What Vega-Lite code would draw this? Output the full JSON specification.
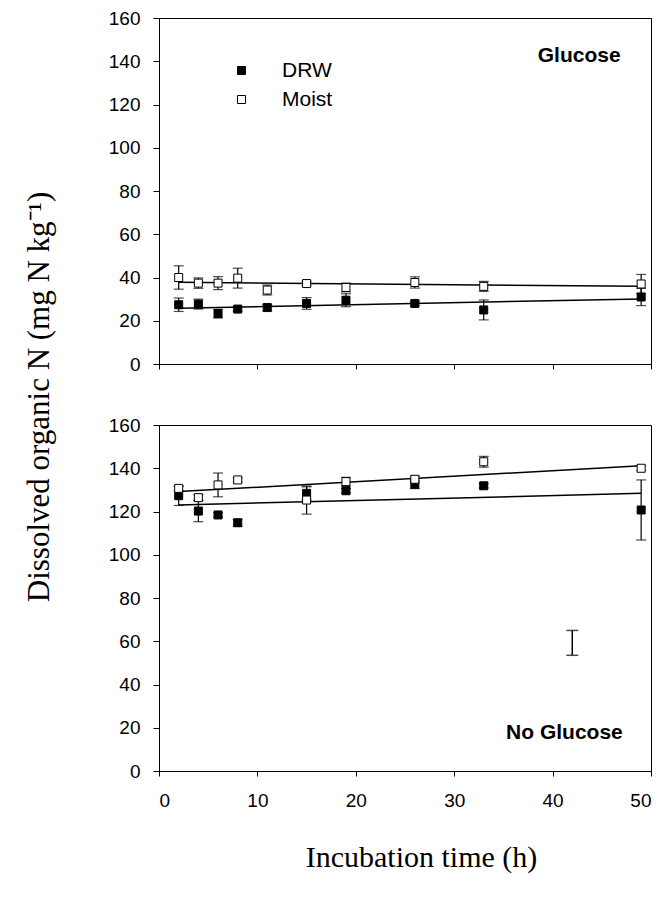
{
  "$schema": "https://vega.github.io/schema/vega-lite/v6.json",
  "autosize": {"type": "pad"},
  "padding": {"left": 22, "top": 8, "right": 5, "bottom": 5},
  "background": "white",
  "bounds": "flush",
  "spacing": 61,
  "datasets": {
    "obs": [
      {"panel": "Glucose", "trt": "DRW", "t": 2, "v": 27.4, "lo": 24.3, "hi": 30.5},
      {"panel": "Glucose", "trt": "DRW", "t": 4, "v": 27.7, "lo": 25.4, "hi": 30.0},
      {"panel": "Glucose", "trt": "DRW", "t": 6, "v": 23.3, "lo": 21.3, "hi": 25.3},
      {"panel": "Glucose", "trt": "DRW", "t": 8, "v": 25.4, "lo": 24.4, "hi": 26.4},
      {"panel": "Glucose", "trt": "DRW", "t": 11, "v": 26.1, "lo": 24.6, "hi": 27.6},
      {"panel": "Glucose", "trt": "DRW", "t": 15, "v": 28.0, "lo": 25.3, "hi": 30.7},
      {"panel": "Glucose", "trt": "DRW", "t": 19, "v": 29.5, "lo": 26.5, "hi": 32.5},
      {"panel": "Glucose", "trt": "DRW", "t": 26, "v": 28.0, "lo": 27.0, "hi": 29.0},
      {"panel": "Glucose", "trt": "DRW", "t": 33, "v": 25.0, "lo": 20.4, "hi": 29.6},
      {"panel": "Glucose", "trt": "DRW", "t": 49, "v": 31.0, "lo": 27.0, "hi": 35.0},
      {"panel": "Glucose", "trt": "Moist", "t": 2, "v": 40.0, "lo": 34.6, "hi": 45.4},
      {"panel": "Glucose", "trt": "Moist", "t": 4, "v": 37.4, "lo": 35.0, "hi": 39.8},
      {"panel": "Glucose", "trt": "Moist", "t": 6, "v": 37.4, "lo": 34.4, "hi": 40.4},
      {"panel": "Glucose", "trt": "Moist", "t": 8, "v": 39.7, "lo": 35.1, "hi": 44.3},
      {"panel": "Glucose", "trt": "Moist", "t": 11, "v": 34.2, "lo": 31.9, "hi": 36.5},
      {"panel": "Glucose", "trt": "Moist", "t": 15, "v": 37.2, "lo": 36.2, "hi": 38.2},
      {"panel": "Glucose", "trt": "Moist", "t": 19, "v": 35.4, "lo": 33.4, "hi": 37.4},
      {"panel": "Glucose", "trt": "Moist", "t": 26, "v": 37.7, "lo": 35.1, "hi": 40.3},
      {"panel": "Glucose", "trt": "Moist", "t": 33, "v": 35.9, "lo": 33.6, "hi": 38.2},
      {"panel": "Glucose", "trt": "Moist", "t": 49, "v": 37.0, "lo": 32.6, "hi": 41.4},
      {"panel": "No Glucose", "trt": "DRW", "t": 2, "v": 127.3, "lo": 122.8, "hi": 131.8},
      {"panel": "No Glucose", "trt": "DRW", "t": 4, "v": 120.2, "lo": 115.3, "hi": 125.1},
      {"panel": "No Glucose", "trt": "DRW", "t": 6, "v": 118.4, "lo": 117.4, "hi": 119.4},
      {"panel": "No Glucose", "trt": "DRW", "t": 8, "v": 114.8, "lo": 113.3, "hi": 116.3},
      {"panel": "No Glucose", "trt": "DRW", "t": 15, "v": 128.4, "lo": 125.4, "hi": 131.4},
      {"panel": "No Glucose", "trt": "DRW", "t": 19, "v": 129.6, "lo": 128.6, "hi": 130.6},
      {"panel": "No Glucose", "trt": "DRW", "t": 26, "v": 132.6, "lo": 130.6, "hi": 134.6},
      {"panel": "No Glucose", "trt": "DRW", "t": 33, "v": 131.9, "lo": 130.9, "hi": 132.9},
      {"panel": "No Glucose", "trt": "DRW", "t": 49, "v": 120.7, "lo": 106.8, "hi": 134.6},
      {"panel": "No Glucose", "trt": "Moist", "t": 2, "v": 130.7, "lo": 129.7, "hi": 131.7},
      {"panel": "No Glucose", "trt": "Moist", "t": 4, "v": 126.4, "lo": 125.1, "hi": 127.7},
      {"panel": "No Glucose", "trt": "Moist", "t": 6, "v": 132.3, "lo": 126.8, "hi": 137.8},
      {"panel": "No Glucose", "trt": "Moist", "t": 8, "v": 134.6, "lo": 133.6, "hi": 135.6},
      {"panel": "No Glucose", "trt": "Moist", "t": 15, "v": 125.3, "lo": 118.8, "hi": 131.8},
      {"panel": "No Glucose", "trt": "Moist", "t": 19, "v": 133.8, "lo": 131.8, "hi": 135.8},
      {"panel": "No Glucose", "trt": "Moist", "t": 26, "v": 134.9, "lo": 133.4, "hi": 136.4},
      {"panel": "No Glucose", "trt": "Moist", "t": 33, "v": 143.0, "lo": 140.5, "hi": 145.5},
      {"panel": "No Glucose", "trt": "Moist", "t": 49, "v": 140.0, "lo": 139.0, "hi": 141.0}
    ],
    "fit": [
      {"panel": "Glucose", "trt": "DRW", "t": 2, "v": 25.8},
      {"panel": "Glucose", "trt": "DRW", "t": 49, "v": 30.1},
      {"panel": "Glucose", "trt": "Moist", "t": 2, "v": 37.8},
      {"panel": "Glucose", "trt": "Moist", "t": 49, "v": 35.9},
      {"panel": "No Glucose", "trt": "DRW", "t": 2, "v": 123.0},
      {"panel": "No Glucose", "trt": "DRW", "t": 49, "v": 128.4},
      {"panel": "No Glucose", "trt": "Moist", "t": 2, "v": 129.2},
      {"panel": "No Glucose", "trt": "Moist", "t": 49, "v": 141.2}
    ],
    "lsd": [
      {"panel": "No Glucose", "t": 42, "lo": 53.5, "hi": 65}
    ],
    "notes": [
      {"panel": "Glucose", "t": 42.7, "v": 142.3, "label": "Glucose"},
      {"panel": "No Glucose", "t": 41.2, "v": 17.6, "label": "No Glucose"}
    ]
  },
  "config": {
    "view": {"stroke": "black", "strokeWidth": 1},
    "axis": {
      "domainColor": "black", "tickColor": "black", "labelColor": "black",
      "labelFont": "Liberation Sans", "labelFontSize": 19, "grid": false,
      "domainWidth": 1, "tickWidth": 1
    }
  },
  "vconcat": [
    {
      "width": 492, "height": 346,
      "layer": [
        {
          "data": {"name": "fit"},
          "transform": [{"filter": "datum.panel === 'Glucose'"}],
          "mark": {"type": "line", "color": "black", "strokeWidth": 1.5},
          "encoding": {
            "x": {"field": "t", "type": "quantitative", "scale": {"domain": [0, 50], "nice": false},
                  "axis": {"values": [0, 10, 20, 30, 40, 50], "labels": false, "title": null, "tickSize": 5}},
            "y": {"field": "v", "type": "quantitative", "scale": {"domain": [0, 160], "nice": false},
                  "axis": {"values": [0, 20, 40, 60, 80, 100, 120, 140, 160], "tickSize": 6, "labelPadding": 13,
                           "title": "Dissolved organic N (mg N kg⁻¹)", "titleFont": "Liberation Serif",
                           "titleFontSize": 31, "titleFontWeight": "normal", "titleColor": "black",
                           "titleAngle": -90, "titleX": -111, "titleY": 378.5, "titleAlign": "center",
                           "titleBaseline": "alphabetic"}},
            "detail": {"field": "trt"}
          }
        },
        {
          "data": {"name": "obs"},
          "transform": [{"filter": "datum.panel === 'Glucose'"}],
          "mark": {"type": "rule", "color": "black", "strokeWidth": 1.2},
          "encoding": {
            "x": {"field": "t", "type": "quantitative"},
            "y": {"field": "lo", "type": "quantitative"},
            "y2": {"field": "hi"}
          }
        },
        {
          "data": {"name": "obs"},
          "transform": [{"filter": "datum.panel === 'Glucose'"}],
          "mark": {"type": "tick", "orient": "horizontal", "size": 10, "thickness": 1.2, "color": "black"},
          "encoding": {
            "x": {"field": "t", "type": "quantitative"},
            "y": {"field": "lo", "type": "quantitative"}
          }
        },
        {
          "data": {"name": "obs"},
          "transform": [{"filter": "datum.panel === 'Glucose'"}],
          "mark": {"type": "tick", "orient": "horizontal", "size": 10, "thickness": 1.2, "color": "black"},
          "encoding": {
            "x": {"field": "t", "type": "quantitative"},
            "y": {"field": "hi", "type": "quantitative"}
          }
        },
        {
          "data": {"name": "obs"},
          "transform": [{"filter": "datum.panel === 'Glucose'"}],
          "mark": {"type": "square", "size": 64, "stroke": "black", "strokeWidth": 1, "opacity": 1},
          "encoding": {
            "x": {"field": "t", "type": "quantitative"},
            "y": {"field": "v", "type": "quantitative"},
            "fill": {"field": "trt", "type": "nominal",
                     "scale": {"domain": ["DRW", "Moist"], "range": ["black", "white"]},
                     "legend": {"orient": "none", "legendX": 72, "legendY": 42, "title": null, "padding": 0,
                                "symbolType": "square", "symbolSize": 64, "symbolStrokeColor": "black",
                                "symbolStrokeWidth": 1, "labelFont": "Liberation Sans", "labelFontSize": 21,
                                "labelColor": "black", "labelOffset": 30, "rowPadding": 7}}
          }
        },
        {
          "data": {"name": "notes"},
          "transform": [{"filter": "datum.panel === 'Glucose'"}],
          "mark": {"type": "text", "font": "Liberation Sans", "fontWeight": "bold", "fontSize": 21,
                   "align": "center", "baseline": "middle", "color": "black"},
          "encoding": {
            "x": {"field": "t", "type": "quantitative"},
            "y": {"field": "v", "type": "quantitative"},
            "text": {"field": "label"}
          }
        }
      ]
    },
    {
      "width": 492, "height": 346,
      "layer": [
        {
          "data": {"name": "fit"},
          "transform": [{"filter": "datum.panel === 'No Glucose'"}],
          "mark": {"type": "line", "color": "black", "strokeWidth": 1.5},
          "encoding": {
            "x": {"field": "t", "type": "quantitative", "scale": {"domain": [0, 50], "nice": false},
                  "axis": {"values": [0, 10, 20, 30, 40, 50], "tickSize": 5, "labelPadding": 15,
                           "title": "Incubation time (h)", "titleFont": "Liberation Serif", "titleFontSize": 30,
                           "titleFontWeight": "normal", "titleColor": "black", "titleX": 262, "titleY": 86,
                           "titleAlign": "center", "titleBaseline": "middle"}},
            "y": {"field": "v", "type": "quantitative", "scale": {"domain": [0, 160], "nice": false},
                  "axis": {"values": [0, 20, 40, 60, 80, 100, 120, 140, 160], "tickSize": 6, "labelPadding": 13,
                           "title": null}},
            "detail": {"field": "trt"}
          }
        },
        {
          "data": {"name": "obs"},
          "transform": [{"filter": "datum.panel === 'No Glucose'"}],
          "mark": {"type": "rule", "color": "black", "strokeWidth": 1.2},
          "encoding": {
            "x": {"field": "t", "type": "quantitative"},
            "y": {"field": "lo", "type": "quantitative"},
            "y2": {"field": "hi"}
          }
        },
        {
          "data": {"name": "obs"},
          "transform": [{"filter": "datum.panel === 'No Glucose'"}],
          "mark": {"type": "tick", "orient": "horizontal", "size": 10, "thickness": 1.2, "color": "black"},
          "encoding": {
            "x": {"field": "t", "type": "quantitative"},
            "y": {"field": "lo", "type": "quantitative"}
          }
        },
        {
          "data": {"name": "obs"},
          "transform": [{"filter": "datum.panel === 'No Glucose'"}],
          "mark": {"type": "tick", "orient": "horizontal", "size": 10, "thickness": 1.2, "color": "black"},
          "encoding": {
            "x": {"field": "t", "type": "quantitative"},
            "y": {"field": "hi", "type": "quantitative"}
          }
        },
        {
          "data": {"name": "lsd"},
          "mark": {"type": "rule", "color": "black", "strokeWidth": 1.5},
          "encoding": {
            "x": {"field": "t", "type": "quantitative"},
            "y": {"field": "lo", "type": "quantitative"},
            "y2": {"field": "hi"}
          }
        },
        {
          "data": {"name": "lsd"},
          "mark": {"type": "tick", "orient": "horizontal", "size": 12, "thickness": 1.5, "color": "black"},
          "encoding": {
            "x": {"field": "t", "type": "quantitative"},
            "y": {"field": "lo", "type": "quantitative"}
          }
        },
        {
          "data": {"name": "lsd"},
          "mark": {"type": "tick", "orient": "horizontal", "size": 12, "thickness": 1.5, "color": "black"},
          "encoding": {
            "x": {"field": "t", "type": "quantitative"},
            "y": {"field": "hi", "type": "quantitative"}
          }
        },
        {
          "data": {"name": "obs"},
          "transform": [{"filter": "datum.panel === 'No Glucose'"}],
          "mark": {"type": "square", "size": 64, "stroke": "black", "strokeWidth": 1, "opacity": 1},
          "encoding": {
            "x": {"field": "t", "type": "quantitative"},
            "y": {"field": "v", "type": "quantitative"},
            "fill": {"field": "trt", "type": "nominal",
                     "scale": {"domain": ["DRW", "Moist"], "range": ["black", "white"]},
                     "legend": null}
          }
        },
        {
          "data": {"name": "notes"},
          "transform": [{"filter": "datum.panel === 'No Glucose'"}],
          "mark": {"type": "text", "font": "Liberation Sans", "fontWeight": "bold", "fontSize": 21,
                   "align": "center", "baseline": "middle", "color": "black"},
          "encoding": {
            "x": {"field": "t", "type": "quantitative"},
            "y": {"field": "v", "type": "quantitative"},
            "text": {"field": "label"}
          }
        }
      ]
    }
  ]
}
